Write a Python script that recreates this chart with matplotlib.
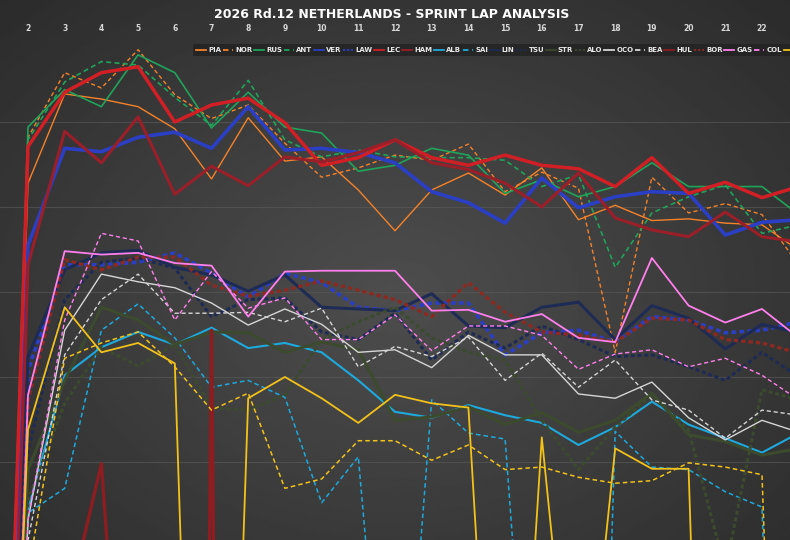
import numpy as np
import matplotlib.pyplot as plt

nan = np.nan

# lap numbers and lap times (s) per driver
laps = list(range(1, 24))

PIA = [85.27, 72.72, 71.67, 71.73, 71.82, 72.08, 72.67, 71.95, 72.46, 72.41, 72.80, 73.28, 72.80, 72.60, 72.86, 72.54, 73.15, 72.98, 73.16, 73.14, 73.19, 73.21, 73.51]
NOR = [85.27, 72.18, 71.42, 71.60, 71.15, 71.68, 71.96, 71.80, 72.25, 72.65, 72.54, 72.39, 72.45, 72.26, 72.82, 72.59, 72.78, 74.71, 72.65, 73.07, 72.96, 73.09, 73.68]
RUS = [85.27, 72.06, 71.62, 71.82, 71.21, 71.42, 72.07, 71.65, 72.06, 72.13, 72.58, 72.51, 72.31, 72.39, 72.84, 72.68, 72.88, 72.76, 72.48, 72.76, 72.76, 72.76, 73.09]
ANT = [85.27, 72.21, 71.53, 71.29, 71.33, 71.71, 72.04, 71.51, 72.21, 72.41, 72.33, 72.41, 72.42, 72.42, 72.45, 72.76, 72.62, 73.71, 73.07, 72.88, 72.74, 73.31, 73.21]
VER = [86.45, 73.45, 72.31, 72.35, 72.18, 72.12, 72.31, 71.82, 72.33, 72.31, 72.36, 72.48, 72.82, 72.95, 73.19, 72.66, 73.01, 72.88, 72.82, 72.84, 73.33, 73.18, 73.15]
LAW = [86.45, 74.92, 73.68, 73.68, 73.65, 73.54, 73.78, 74.06, 73.78, 73.89, 74.18, 74.22, 74.13, 74.13, 74.74, 74.48, 74.45, 74.59, 74.29, 74.33, 74.48, 74.45, 74.35]
LEC = [85.27, 72.29, 71.65, 71.42, 71.35, 72.00, 71.80, 71.72, 72.01, 72.51, 72.42, 72.21, 72.42, 72.51, 72.39, 72.51, 72.55, 72.76, 72.42, 72.84, 72.71, 72.89, 72.76]
HAM = [87.04, 73.68, 72.11, 72.48, 71.94, 72.85, 72.52, 72.75, 72.41, 72.47, 72.36, 72.21, 72.48, 72.56, 72.72, 73.00, 72.60, 73.13, 73.27, 73.35, 73.06, 73.35, 73.41]
ALB = [87.62, 76.56, 74.98, 74.65, 74.47, 74.62, 74.42, 74.66, 74.60, 74.71, 75.04, 75.41, 75.48, 75.33, 75.45, 75.54, 75.80, 75.59, 75.29, 75.56, 75.72, 75.89, 75.66]
SAI = [88.21, 76.60, 76.31, 74.45, 74.14, 74.54, 75.12, 75.04, 75.24, 76.48, 75.94, 80.86, 75.27, 75.66, 75.73, 81.56, 89.39, 75.64, 76.06, 76.09, 76.35, 76.53, 89.39]
LIN = [86.45, 74.76, 73.74, 73.54, 73.51, 73.71, 73.80, 73.99, 73.80, 74.18, 74.20, 74.22, 74.02, 74.40, 74.42, 74.18, 74.12, 74.56, 74.16, 74.31, 74.67, 74.38, 74.48]
TSU = [87.04, 75.86, 74.09, 73.65, 73.60, 73.72, 74.29, 74.09, 74.07, 74.47, 74.56, 74.25, 74.80, 74.47, 74.66, 74.40, 74.56, 74.76, 74.74, 74.88, 75.04, 74.71, 75.00]
STR = [86.45, 76.09, 75.04, 74.18, 74.33, 74.62, 74.47, 74.48, 74.71, 74.59, 74.68, 75.51, 75.47, 75.35, 75.56, 75.42, 75.65, 75.51, 75.19, 75.68, 75.76, 75.92, 75.84]
ALO = [87.04, 76.45, 75.31, 74.65, 74.87, 74.62, 75.36, 75.39, 75.21, 74.56, 74.35, 74.18, 74.54, 74.71, 74.80, 75.51, 76.09, 75.59, 75.21, 75.62, 77.27, 75.15, 75.27]
OCO = [87.04, 76.68, 74.45, 73.79, 73.88, 73.95, 74.13, 74.39, 74.20, 74.38, 74.71, 74.68, 74.89, 74.51, 74.74, 74.74, 75.20, 75.25, 75.06, 75.48, 75.74, 75.51, 75.65]
BEA = [87.62, 76.92, 74.74, 74.09, 73.79, 74.25, 74.25, 74.24, 74.35, 74.19, 74.88, 74.64, 74.76, 74.53, 75.04, 74.72, 75.12, 74.80, 75.27, 75.39, 75.72, 75.39, 75.45]
HUL = [87.04, 81.15, 77.85, 76.02, 82.04, 120.0, 74.45, 120.0, nan, nan, nan, nan, nan, nan, nan, nan, nan, nan, nan, nan, nan, nan, nan]
BOR = [87.04, 75.27, 73.62, 73.74, 73.59, 73.59, 73.92, 74.05, 73.98, 73.87, 73.98, 74.09, 74.29, 73.89, 74.24, 74.47, 74.51, 74.59, 74.31, 74.33, 74.56, 74.60, 74.72]
GAS = [87.04, 75.21, 73.52, 73.56, 73.54, 73.66, 73.69, 74.29, 73.76, 73.75, 73.75, 73.75, 74.22, 74.21, 74.35, 74.26, 74.54, 74.59, 73.60, 74.16, 74.36, 74.20, 74.54]
COL = [87.62, 76.68, 74.33, 73.31, 73.40, 74.33, 73.76, 74.19, 74.07, 74.56, 74.56, 74.27, 74.69, 74.40, 74.40, 74.51, 74.91, 74.73, 74.68, 74.88, 74.78, 74.98, 75.27]
PER = [85.86, 75.62, 74.18, 74.71, 74.60, 74.84, 87.98, 75.25, 75.00, 75.25, 75.54, 75.21, 75.31, 75.36, 82.56, 75.71, 79.98, 75.84, 76.08, 76.08, 89.62, nan, nan]
BOT = [87.62, 77.32, 74.78, 74.60, 74.47, 74.88, 75.39, 75.19, 76.31, 76.20, 75.75, 75.75, 75.98, 75.80, 76.09, 76.06, 76.18, 76.25, 76.22, 76.01, 76.06, 76.15, 88.21]

drivers = ['PIA', 'NOR', 'RUS', 'ANT', 'VER', 'LAW', 'LEC', 'HAM', 'ALB', 'SAI', 'LIN',
           'TSU', 'STR', 'ALO', 'OCO', 'BEA', 'HUL', 'BOR', 'GAS', 'COL', 'PER', 'BOT']
times = [PIA, NOR, RUS, ANT, VER, LAW, LEC, HAM, ALB, SAI, LIN,
         TSU, STR, ALO, OCO, BEA, HUL, BOR, GAS, COL, PER, BOT]

# style: colour, dashed, width
style = {
    'PIA': ('#f5822a', False, 1.0), 'NOR': ('#f5822a', True, 1.0),
    'RUS': ('#1fa45a', False, 1.2), 'ANT': ('#1fa45a', True, 1.2),
    'VER': ('#2a3fc4', False, 2.6), 'LAW': ('#2a3fc4', True, 2.6),
    'LEC': ('#d21f25', False, 2.5), 'HAM': ('#9a1f28', False, 2.2),
    'ALB': ('#1ea9dc', False, 1.5), 'SAI': ('#1ea9dc', True, 1.1),
    'LIN': ('#1d2b55', False, 2.2), 'TSU': ('#1d2b55', True, 2.2),
    'STR': ('#3c4a2e', False, 2.2), 'ALO': ('#3c4a2e', True, 2.2),
    'OCO': ('#d6d6d6', False, 1.0), 'BEA': ('#d6d6d6', True, 1.0),
    'HUL': ('#8c1d20', False, 2.4), 'BOR': ('#8c2a22', True, 2.4),
    'GAS': ('#ff80ec', False, 1.3), 'COL': ('#ff80ec', True, 1.0),
    'PER': ('#f2c21b', False, 1.3), 'BOT': ('#f2c21b', True, 1.1),
}

fig = plt.figure(figsize=(7.9, 5.4), dpi=100)
fig.patch.set_facecolor('#2c2c2c')
ax = fig.add_axes([0, 0, 1, 1])

# background vignette
yy, xx = np.mgrid[0:1:200j, 0:1:300j]
r = np.sqrt(((xx - 0.5) / 0.75) ** 2 + ((yy - 0.55) / 0.8) ** 2)
bg = 0.305 - 0.14 * r
ax.imshow(bg, extent=[0, 1, 0, 1], transform=ax.transAxes, cmap='gray',
          vmin=0, vmax=1, aspect='auto', zorder=0, interpolation='bilinear')

for d, t in zip(drivers, times):
    c, dashed, lw = style[d]
    if dashed:
        ls = (0, (1.3, 0.9)) if lw > 2 else (0, (3, 2))
    else:
        ls = '-'
    ax.plot(laps, t, color=c, lw=lw, ls=ls, label=d, zorder=2)

ax.set_xlim(1.237, 22.763)
ax.set_ylim(76.918, 70.565)
ax.set_xticks(range(2, 23))
ax.xaxis.tick_top()
ax.tick_params(axis='x', length=0, pad=-24, labelsize=5.5, labelcolor='#d8d8d8')
for lab in ax.get_xticklabels():
    lab.set_fontweight('bold')
ax.set_yticks(np.arange(72, 77, 1.0))
ax.tick_params(axis='y', length=0, labelleft=False)
ax.yaxis.grid(True, color='#5c5c5c', lw=0.8, alpha=0.6, zorder=1)
ax.set_axisbelow(True)
for s in ax.spines.values():
    s.set_visible(False)

fig.text(0.496, 1 - 15 / 540, '2026 Rd.12 NETHERLANDS - SPRINT LAP ANALYSIS',
         ha='center', va='center', color='white', fontsize=9, fontweight='bold')

leg = ax.legend(ncol=22, loc='upper left', bbox_to_anchor=(190 / 790, 1 - 41 / 540),
                bbox_transform=fig.transFigure, prop={'size': 5, 'weight': 'bold'},
                frameon=True, facecolor='#232323', edgecolor='none', framealpha=0.85,
                handlelength=1.45, handletextpad=0.3, columnspacing=0.24, borderpad=0.4,
                labelcolor='#e8e8e8')
leg.set_zorder(5)
for h in leg.get_lines():
    h.set_linewidth(1.3)

fig.savefig('out.png', dpi=100, facecolor=fig.get_facecolor())
